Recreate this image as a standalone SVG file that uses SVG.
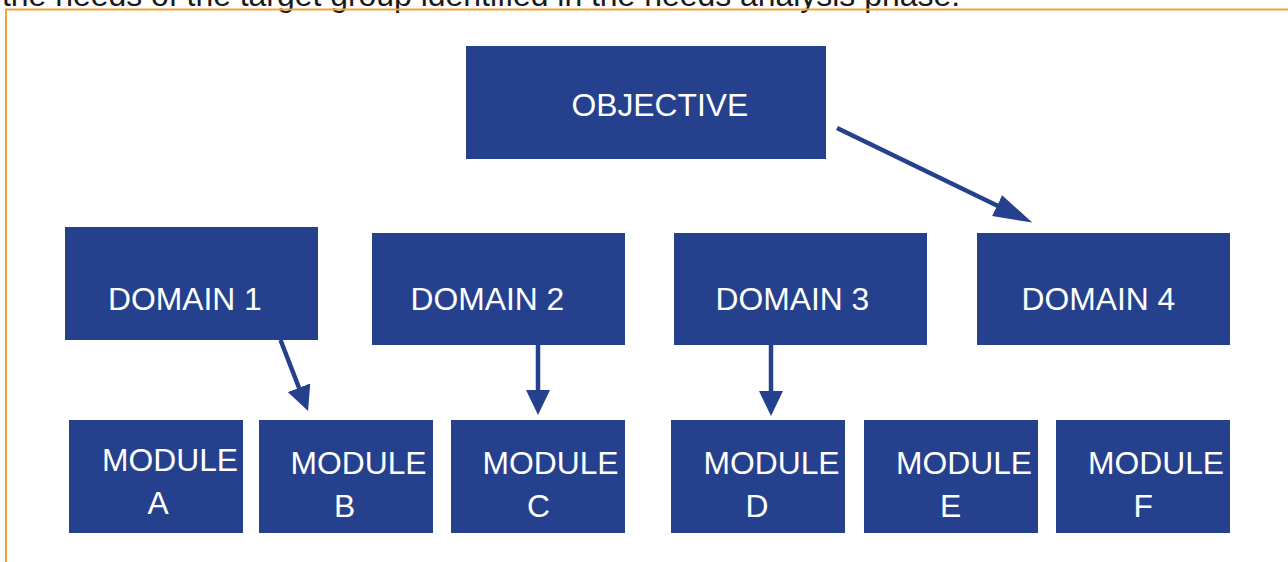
<svg xmlns="http://www.w3.org/2000/svg" width="1288" height="562" viewBox="0 0 1288 562">
  <style>
    .box { fill: #25418E; }
    .lbl { fill: #FFFFFF; font-family: "Liberation Sans", Arial, sans-serif; font-size: 31.8px; }
    .caption { fill: #1A1A1A; font-family: "Liberation Sans", Arial, sans-serif; font-size: 31px; }
    .frame { fill: none; stroke: #F4A23C; stroke-width: 2; }
    .link { fill: none; stroke: #25418E; stroke-width: 4.5; }
  </style>
  <defs>
    <marker id="head" markerUnits="userSpaceOnUse" viewBox="0 0 25 24" refX="1" refY="12" markerWidth="25" markerHeight="24" orient="auto">
      <path d="M0,0 L25,12 L0,24 Z" fill="#25418E"/>
    </marker>
    <marker id="headLong" markerUnits="userSpaceOnUse" viewBox="0 0 39 23" refX="1" refY="11.5" markerWidth="39" markerHeight="23" orient="auto">
      <path d="M0,0 L39,11.5 L0,23 Z" fill="#25418E"/>
    </marker>
  </defs>

  <rect width="1288" height="562" fill="#FFFFFF"/>

  <!-- running text above the frame -->
  <text class="caption" x="2" y="5.5" textLength="958" lengthAdjust="spacingAndGlyphs">the needs of the target group identified in the needs analysis phase.</text>

  <!-- frame -->
  <path class="frame" d="M1288,9.5 H6 V562"/>

  <g id="objective">
    <rect class="box" x="466" y="46" width="360" height="113"/>
    <text class="lbl" x="571.5" y="116">OBJECTIVE</text>
  </g>

  <g id="domain1">
    <rect class="box" x="65" y="227" width="253" height="113"/>
    <text class="lbl" x="108" y="309.5">DOMAIN 1</text>
  </g>
  <g id="domain2">
    <rect class="box" x="372" y="233" width="253" height="112"/>
    <text class="lbl" x="410.5" y="310">DOMAIN 2</text>
  </g>
  <g id="domain3">
    <rect class="box" x="674" y="233" width="253" height="112"/>
    <text class="lbl" x="715.5" y="310">DOMAIN 3</text>
  </g>
  <g id="domain4">
    <rect class="box" x="977" y="233" width="253" height="112"/>
    <text class="lbl" x="1021.5" y="310">DOMAIN 4</text>
  </g>

  <g id="moduleA">
    <rect class="box" x="69" y="420" width="174" height="113"/>
    <text class="lbl" x="102" y="471">MODULE</text>
    <text class="lbl" x="147.5" y="514">A</text>
  </g>
  <g id="moduleB">
    <rect class="box" x="259" y="420" width="174" height="113"/>
    <text class="lbl" x="290.5" y="473.5">MODULE</text>
    <text class="lbl" x="334" y="516.5">B</text>
  </g>
  <g id="moduleC">
    <rect class="box" x="451" y="420" width="174" height="113"/>
    <text class="lbl" x="482.5" y="474">MODULE</text>
    <text class="lbl" x="527" y="517">C</text>
  </g>
  <g id="moduleD">
    <rect class="box" x="671" y="420" width="174" height="113"/>
    <text class="lbl" x="703.5" y="474">MODULE</text>
    <text class="lbl" x="745.5" y="516.5">D</text>
  </g>
  <g id="moduleE">
    <rect class="box" x="864" y="420" width="174" height="113"/>
    <text class="lbl" x="896" y="474">MODULE</text>
    <text class="lbl" x="940" y="516.5">E</text>
  </g>
  <g id="moduleF">
    <rect class="box" x="1056" y="420" width="174" height="113"/>
    <text class="lbl" x="1088" y="474">MODULE</text>
    <text class="lbl" x="1133.5" y="516.5">F</text>
  </g>

  <g id="connectors">
    <line class="link" x1="837" y1="128" x2="998" y2="206" marker-end="url(#headLong)"/>
    <line class="link" x1="280.5" y1="340" x2="299.4" y2="388.7" marker-end="url(#head)"/>
    <line class="link" x1="538" y1="345" x2="538" y2="391" marker-end="url(#head)"/>
    <line class="link" x1="771" y1="345" x2="771" y2="392" marker-end="url(#head)"/>
  </g>
</svg>
